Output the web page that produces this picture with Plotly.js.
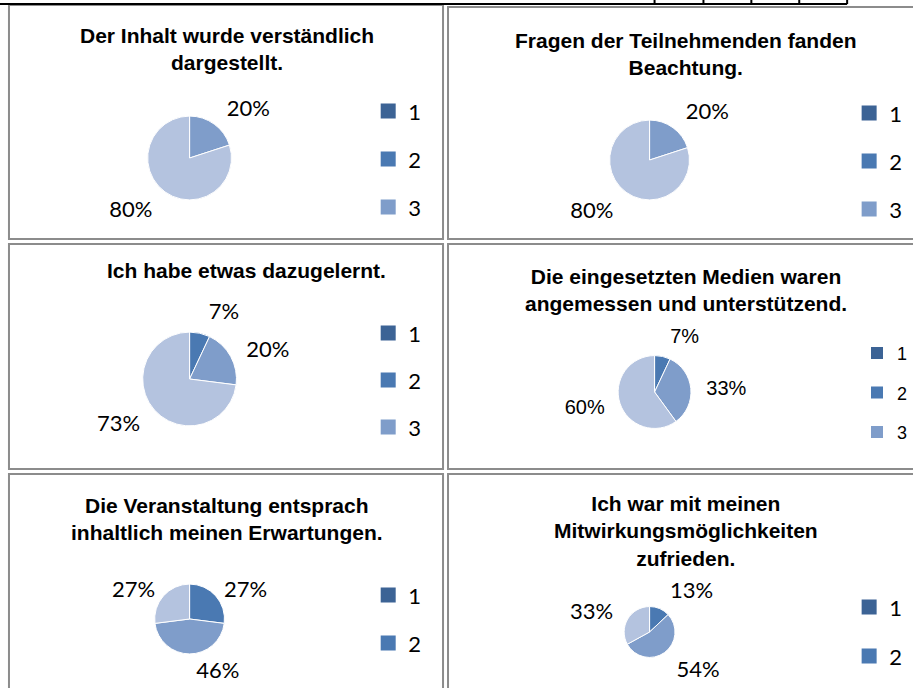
<!DOCTYPE html>
<html><head><meta charset="utf-8">
<script src="https://cdn.plot.ly/plotly-3.0.1.min.js"></script>
<style>html,body{margin:0;padding:0;background:#fff}#chart{width:913px;height:688px}</style>
</head><body><div id="chart"></div>
<script>
// ---- data ----
const categories = ['1', '2', '3', '4'];
const titles = [
  'Der Inhalt wurde verständlich<br>dargestellt.',
  'Fragen der Teilnehmenden fanden<br>Beachtung.',
  'Ich habe etwas dazugelernt.',
  'Die eingesetzten Medien waren<br>angemessen und unterstützend.',
  'Die Veranstaltung entsprach<br>inhaltlich meinen Erwartungen.',
  'Ich war mit meinen<br>Mitwirkungsmöglichkeiten<br>zufrieden.'
];
const valuesVerstaendlich = [0, 0, 20, 80];
const valuesFragen = [0, 0, 20, 80];
const valuesDazugelernt = [0, 7, 20, 73];
const valuesMedien = [0, 7, 33, 60];
const valuesErwartungen = [0, 27, 46, 27];
const valuesMitwirkung = [0, 13, 54, 33];
const legendShown = [3, 3, 3, 3, 2, 2];
const sliceColors = ['#3C6395', '#4A79B2', '#7F9DCA', '#B4C3DF'];

// ---- layout helpers ----
const W = 913, H = 688;
const px = x => x / W, py = y => 1 - y / H;
const CAL = 'Lato, Carlito, sans-serif', ARI = 'Liberation Sans, Arial, sans-serif';

const panels = [
  {vals: valuesVerstaendlich, cx: 190, cy: 158, r: 42, off: 10, font: CAL, lfs: 22, tfs: 22, lsq: 15, lx: 389, ly1: 111, lsp: 48, tx: 227, ty: 49.5},
  {vals: valuesFragen,        cx: 651, cy: 160, r: 40, off: 10, font: CAL, lfs: 22, tfs: 22, lsq: 15, lx: 871, ly1: 113, lsp: 48, tx: 688, ty: 54},
  {vals: valuesDazugelernt,   cx: 190, cy: 379, r: 47, off: 10, font: CAL, lfs: 22, tfs: 22, lsq: 15, lx: 389, ly1: 333, lsp: 47, tx: 247, ty: 271},
  {vals: valuesMedien,        cx: 656, cy: 392, r: 36.5, off: 10, font: ARI, lfs: 18, tfs: 20, lsq: 12, lx: 879, ly1: 353, lsp: 39.5, tx: 688, ty: 289.5},
  {vals: valuesErwartungen,   cx: 190, cy: 619, r: 35, off: 2, font: CAL, lfs: 22, tfs: 22, lsq: 15, lx: 389, ly1: 595, lsp: 48, tx: 227, ty: 518.5},
  {vals: valuesMitwirkung,    cx: 651, cy: 632, r: 25.5, off: 9, font: CAL, lfs: 22, tfs: 22, lsq: 15, lx: 871, ly1: 607, lsp: 49, tx: 688, ty: 530.5}
];

const data = [];
const layout = {
  width: W, height: H,
  margin: {l: 0, r: 0, t: 0, b: 0},
  paper_bgcolor: '#fff', plot_bgcolor: 'rgba(0,0,0,0)',
  xaxis: {visible: false}, yaxis: {visible: false},
  showlegend: true,
  annotations: [], shapes: []
};

panels.forEach((p, i) => {
  const labs = [], vals = [], cols = [];
  p.vals.forEach((v, k) => { if (v > 0) { labs.push(categories[k]); vals.push(v); cols.push(sliceColors[k]); } });
  const common = {type: 'pie', labels: labs, values: vals, sort: false, direction: 'clockwise', rotation: 0,
    showlegend: false, hoverinfo: 'skip'};
  // visible pie
  data.push(Object.assign({}, common, {
    marker: {colors: cols, line: {color: '#ffffff', width: 1}},
    domain: {x: [px(p.cx - p.r), px(p.cx + p.r)], y: [py(p.cy + p.r), py(p.cy - p.r)]},
    textposition: 'none'
  }));
  // transparent, slightly larger copy that carries the outside percentage labels
  const R = p.r + p.off;
  data.push(Object.assign({}, common, {
    marker: {colors: cols.map(() => 'rgba(0,0,0,0)'), line: {width: 0}},
    domain: {x: [px(p.cx - R), px(p.cx + R)], y: [py(p.cy + R), py(p.cy - R)]},
    textposition: 'outside', texttemplate: '%{percent:.0%}',
    textfont: {family: p.font, size: p.tfs, color: '#000'}
  }));
  const legName = i === 0 ? 'legend' : 'legend' + (i + 1);
  for (let k = 0; k < legendShown[i]; k++) {
    data.push({
      type: 'scatter', mode: 'markers', x: [null], y: [null],
      marker: {symbol: 'square', size: p.lsq, color: sliceColors[k], line: {width: 0}},
      name: categories[k], legend: legName, legendgroup: 'p' + i + 'c' + k,
      showlegend: true, hoverinfo: 'skip'
    });
  }
  const itemH = p.lfs * 1.3 + 3;
  layout[legName] = {
    x: px(p.lx - 20), y: py(p.ly1 - itemH / 2 - 5), xanchor: 'left', yanchor: 'top',
    bgcolor: 'rgba(0,0,0,0)', borderwidth: 0,
    font: {family: p.font, size: p.lfs, color: '#000'},
    traceorder: 'grouped', tracegroupgap: p.lsp - itemH
  };
  layout.annotations.push({
    xref: 'paper', yref: 'paper', x: px(p.tx), y: py(p.ty), xanchor: 'center', yanchor: 'middle',
    showarrow: false, text: titles[i], align: 'center',
    font: {family: ARI, size: 21, weight: 'bold', color: '#000'}
  });
});

// panel frames (double table/chart borders)
const rowsY = [[5, 239], [244, 469], [474, 700]];
const colsX = [[9, 444], [449, 925]];
rowsY.forEach((ry, ri) => colsX.forEach((cx, ci) => {
  layout.shapes.push({type: 'rect', xref: 'paper', yref: 'paper',
    x0: px(cx[0]), x1: px(cx[1]), y0: py(ry[1]), y1: py(ri === 0 && ci === 1 ? 7 : ry[0]),
    line: {color: '#8c8c8c', width: 2}, fillcolor: 'rgba(0,0,0,0)'});
}));
// top table rule of the surrounding document
layout.shapes.push({type: 'line', xref: 'paper', yref: 'paper', x0: 0, x1: px(849), y0: py(4), y1: py(4), line: {color: '#000', width: 2}});
[656, 705, 753, 801, 849].forEach(x => layout.shapes.push({type: 'line', xref: 'paper', yref: 'paper', x0: px(x), x1: px(x), y0: py(0), y1: py(4), line: {color: '#000', width: 2}}));

Plotly.newPlot('chart', data, layout, {staticPlot: true, displayModeBar: false});
</script>
</body></html>
